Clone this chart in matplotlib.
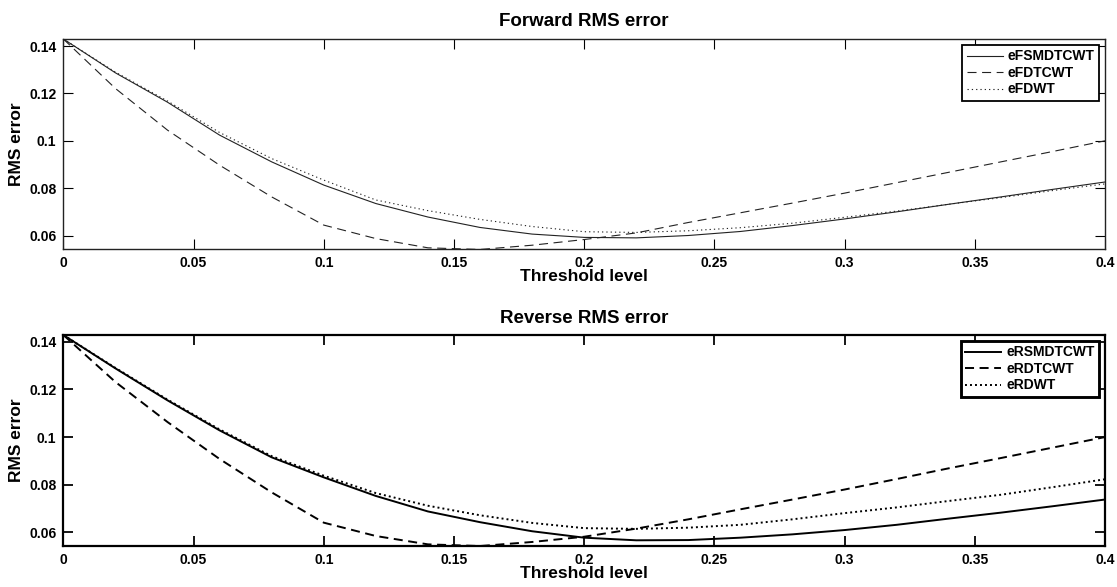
import numpy as np
import matplotlib
matplotlib.use("Agg")
import matplotlib.pyplot as plt

plt.rcParams['font.family'] = ['Liberation Sans', 'DejaVu Sans']
plt.rcParams['lines.scale_dashes'] = False

# threshold levels
thr = np.round(np.arange(0, 0.4001, 0.02), 2)

# forward RMS error
f_smdtcwt = [0.143, 0.1287, 0.1163, 0.1024, 0.0911, 0.0813, 0.0735, 0.0678, 0.0634, 0.0606, 0.0592,
             0.0590, 0.0600, 0.0617, 0.0642, 0.0670, 0.0700, 0.0732, 0.0763, 0.0795, 0.0826]
f_dtcwt = [0.143, 0.1221, 0.1045, 0.0897, 0.0763, 0.0644, 0.0587, 0.0548, 0.0541, 0.0559, 0.0583,
           0.0611, 0.0655, 0.0696, 0.0737, 0.0779, 0.0823, 0.0867, 0.0911, 0.0955, 0.1000]
f_dwt = [0.143, 0.1290, 0.1168, 0.1035, 0.0925, 0.0834, 0.0750, 0.0705, 0.0668, 0.0638, 0.0616,
         0.0613, 0.0620, 0.0633, 0.0652, 0.0677, 0.0703, 0.0732, 0.0760, 0.0790, 0.0818]

# reverse RMS error
r_smdtcwt = [0.1428, 0.1288, 0.1154, 0.1028, 0.0915, 0.0831, 0.0753, 0.0688, 0.0643, 0.0605, 0.0578,
             0.0567, 0.0568, 0.0578, 0.0592, 0.0610, 0.0632, 0.0658, 0.0683, 0.0710, 0.0738]
r_dtcwt = [0.1428, 0.1231, 0.1063, 0.0908, 0.0768, 0.0641, 0.0585, 0.0550, 0.0543, 0.0560, 0.0582,
           0.0616, 0.0655, 0.0697, 0.0738, 0.0780, 0.0824, 0.0869, 0.0912, 0.0956, 0.1000]
r_dwt = [0.1428, 0.1290, 0.1157, 0.1032, 0.0920, 0.0838, 0.0765, 0.0712, 0.0672, 0.0640, 0.0618,
         0.0615, 0.0620, 0.0632, 0.0655, 0.0681, 0.0705, 0.0732, 0.0758, 0.0790, 0.0823]

xticks = [0, 0.05, 0.1, 0.15, 0.2, 0.25, 0.3, 0.35, 0.4]
xticklabels = ['0', '0.05', '0.1', '0.15', '0.2', '0.25', '0.3', '0.35', '0.4']
yticks = [0.06, 0.08, 0.1, 0.12, 0.14]
yticklabels = ['0.06', '0.08', '0.1', '0.12', '0.14']

fig = plt.figure(figsize=(11.17, 5.87), dpi=100)
ax1 = fig.add_axes([0.0567, 0.575, 0.9326, 0.3586])
ax2 = fig.add_axes([0.0567, 0.0698, 0.9326, 0.3595])


def panel(ax, series, labels, title, lw, col, spw):
    ax.plot(thr, series[0], color=col, lw=lw, linestyle='-', label=labels[0])
    ax.plot(thr, series[1], color=col, lw=lw, dashes=(6.5, 4.0), label=labels[1])
    ax.plot(thr, series[2], color=col, lw=lw, dashes=(max(lw, 0.9), 2.2), label=labels[2])
    allv = np.concatenate([np.asarray(s) for s in series])
    ax.set_xlim(0, 0.4)
    ax.set_ylim(allv.min(), allv.max())
    ax.set_xticks(xticks)
    ax.set_xticklabels(xticklabels)
    ax.set_yticks(yticks)
    ax.set_yticklabels(yticklabels)
    ax.tick_params(direction='in', length=7, width=spw * 0.8, top=True, right=True,
                   labelsize=10, pad=5, colors='black')
    for t in ax.get_xticklabels() + ax.get_yticklabels():
        t.set_fontweight('bold')
    for s in ax.spines.values():
        s.set_linewidth(spw)
        s.set_color(col)
    ax.set_title(title, fontsize=13.5, fontweight='bold', pad=9)
    ax.set_xlabel('Threshold level', fontsize=12.5, fontweight='bold', labelpad=-1)
    ax.set_ylabel('RMS error', fontsize=12.5, fontweight='bold', labelpad=4)
    leg = ax.legend(loc='upper right', fancybox=False, edgecolor='black', framealpha=1,
                    prop={'size': 10, 'weight': 'bold'}, handlelength=2.6, handletextpad=0.36,
                    labelspacing=0.18, borderpad=0.3, borderaxespad=0.45)
    leg.get_frame().set_linewidth(spw * 1.3)


panel(ax1, [f_smdtcwt, f_dtcwt, f_dwt], ['eFSMDTCWT', 'eFDTCWT', 'eFDWT'],
      'Forward RMS error', 0.8, '#222222', 1.0)
panel(ax2, [r_smdtcwt, r_dtcwt, r_dwt], ['eRSMDTCWT', 'eRDTCWT', 'eRDWT'],
      'Reverse RMS error', 1.4, 'black', 1.6)

plt.savefig("out.png", dpi=100)
